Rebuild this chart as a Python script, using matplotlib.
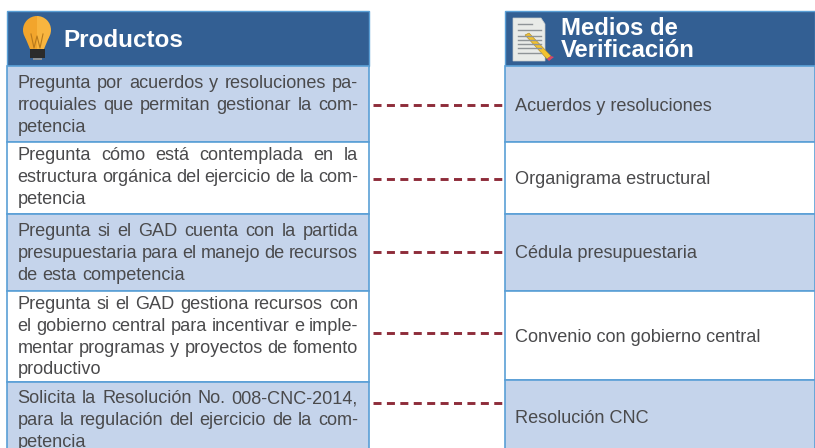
# coding=utf-8
import matplotlib
matplotlib.use('Agg')
import matplotlib.pyplot as plt
from matplotlib.patches import Rectangle, Polygon, Wedge

# Textos de la tabla
left_title = 'Productos'
right_title = ['Medios de', 'Verificación']
left_rows = [
    ['Pregunta por acuerdos y resoluciones pa-', 'rroquiales que permitan gestionar la com-', 'petencia'],
    ['Pregunta cómo está contemplada en la', 'estructura orgánica del ejercicio de la com-', 'petencia'],
    ['Pregunta si el GAD cuenta con la partida', 'presupuestaria para el manejo de recursos', 'de esta competencia'],
    ['Pregunta si el GAD gestiona recursos con', 'el gobierno central para incentivar e imple-', 'mentar programas y proyectos de fomento', 'productivo'],
    ['Solicita la Resolución No. 008-CNC-2014,', 'para la regulación del ejercicio de la com-', 'petencia'],
]
right_rows = ['Acuerdos y resoluciones', 'Organigrama estructural', 'Cédula presupuestaria',
              'Convenio con gobierno central', 'Resolución CNC']

# Geometria en pixeles de la imagen
left_edges = [66, 142, 214, 291, 382, 449]
right_edges = [66, 142, 214, 291, 380, 449]
left_baseline = [88, 160, 236, 309, 403]
right_baseline = [111, 184, 258, 342, 423]
link_y = [105, 179, 252, 333, 403]

HEADER = '#335f93'
FILL = '#c5d4eb'
BORDER = '#5a9fd6'
TEXT = '#4a4a4c'
LINK = '#8e2c3a'
FONT = 'Liberation Sans'
BODY_SIZE = 13.1

fig = plt.figure(figsize=(8.15, 4.48), dpi=100)
ax = fig.add_axes([0, 0, 1, 1])
ax.set_xlim(0, 815)
ax.set_ylim(448, 0)
ax.axis('off')


def draw_table(x0, x1, edges):
    ax.add_patch(Rectangle((x0, 11), x1 - x0, edges[0] - 11, fc=HEADER, ec=BORDER, lw=1))
    for i in range(len(edges) - 1):
        color = FILL if i % 2 == 0 else 'white'
        ax.add_patch(Rectangle((x0, edges[i]), x1 - x0, edges[i + 1] - edges[i], fc=color, ec=BORDER, lw=1.2))


def justified(line, x0, x1, y, stretch=True):
    # Texto justificado: cada palabra se coloca por separado
    words = line.split(' ')
    renderer = fig.canvas.get_renderer()
    items = [ax.text(x0, y, w, fontsize=BODY_SIZE, family=FONT, color=TEXT, va='baseline', ha='left') for w in words]
    if not stretch or len(words) < 2:
        space = BODY_SIZE * 100 / 72 * 0.278
    else:
        widths = [t.get_window_extent(renderer).width for t in items]
        space = (x1 - x0 - sum(widths)) / (len(words) - 1)
    x = x0
    for t in items:
        t.set_x(x)
        x += t.get_window_extent(renderer).width + space


def draw_bulb():
    # Mitad izquierda y derecha del vidrio, el eje y esta invertido
    ax.add_patch(Wedge((37, 30), 14, 90, 270, fc='#f2a52c', ec='none'))
    ax.add_patch(Wedge((37, 30), 14, 270, 90, fc='#f8b53f', ec='none'))
    ax.add_patch(Polygon([(25, 37), (37, 37), (37, 49), (30, 49)], fc='#f2a52c', ec='none'))
    ax.add_patch(Polygon([(37, 37), (49, 37), (44, 49), (37, 49)], fc='#f8b53f', ec='none'))
    ax.add_patch(Rectangle((30, 49), 15, 9, fc='#2b2b2b', ec='none'))
    ax.add_patch(Rectangle((33, 58), 9, 2, fc='#8a8f94', ec='none'))
    ax.plot([31, 34, 37, 40, 43], [34, 48, 36, 48, 34], color='#b8791c', lw=0.8)


def draw_document():
    ax.add_patch(Polygon([(513, 18), (541, 18), (545, 24), (545, 61), (513, 61)], fc='#e9ebe8', ec='#c9cccb', lw=0.5))
    for y in [24, 30, 36, 40, 44, 48, 53]:
        ax.plot([518, 541 if y > 24 else 532], [y, y], color='#8f9497', lw=1)
    ax.add_patch(Polygon([(525, 35), (529, 33), (551, 56), (547, 59)], fc='#f2c230', ec='#a8862a', lw=0.4))
    ax.add_patch(Polygon([(547, 59), (551, 56), (554, 57), (549, 61)], fc='#d6476a', ec='none'))


draw_table(7, 369, left_edges)
draw_table(505, 815, right_edges)
fig.canvas.draw()

ax.text(63.5, 47, left_title, fontsize=17.5, family=FONT, weight='bold', color='white', va='baseline')
ax.text(561, 35, right_title[0], fontsize=17.2, family=FONT, weight='bold', color='white', va='baseline')
ax.text(561, 57, right_title[1], fontsize=17.2, family=FONT, weight='bold', color='white', va='baseline')
draw_bulb()
draw_document()

for lines, y0 in zip(left_rows, left_baseline):
    for j, line in enumerate(lines):
        justified(line, 17.5, 358, y0 + j * 21.8, stretch=j < len(lines) - 1)

for label, y in zip(right_rows, right_baseline):
    ax.text(515, y, label, fontsize=BODY_SIZE, family=FONT, color=TEXT, va='baseline')

for y in link_y:
    ax.plot([373, 504], [y, y], color=LINK, lw=2.1, dashes=(2.75, 1.85), dash_capstyle='butt')

fig.savefig('out.png', dpi=100)
